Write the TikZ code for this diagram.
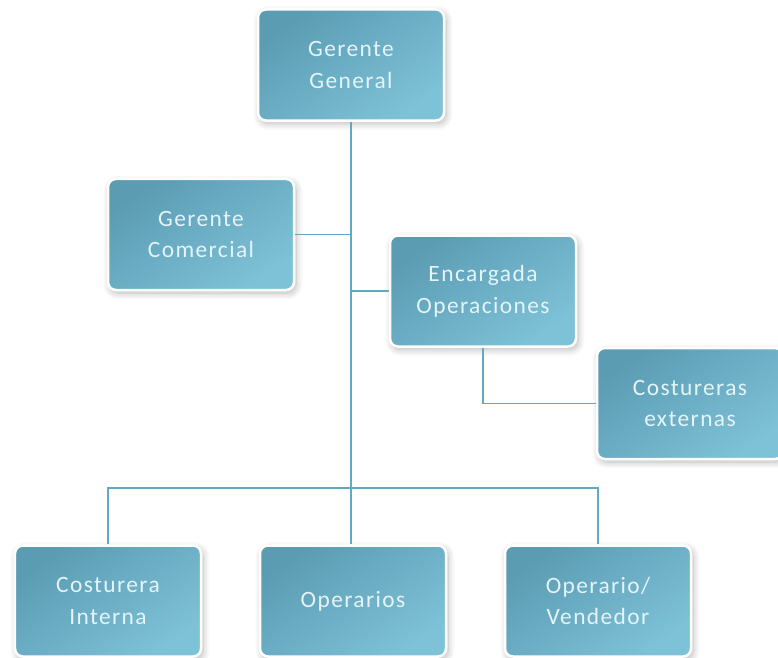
\documentclass[tikz,border=0pt]{standalone}
\usepackage{fontspec}
\setmainfont{Carlito}[LetterSpace=6]
\usetikzlibrary{shadows.blur}
\definecolor{boxtop}{HTML}{5B9CB3}
\definecolor{boxbot}{HTML}{7EC2D8}
\definecolor{boxtext}{HTML}{E4F4F8}
\definecolor{linkc}{HTML}{62A8C2}
\begin{document}
\begin{tikzpicture}[x=1bp,y=-1bp,
  orgbox/.style={draw=white, line width=2.5bp, rounded corners=8bp,
    minimum width=186bp, minimum height=111bp,
    top color=boxtop, bottom color=boxbot, middle color=boxtop!50!boxbot, shading angle=35,
    blur shadow={shadow xshift=2bp, shadow yshift=-3bp, shadow blur radius=7bp,
      shadow blur steps=12, shadow opacity=28},
    text=boxtext, align=center, font=\fontsize{23.5}{32}\selectfont},
  link/.style={draw=linkc, line width=1.6bp}]
\useasboundingbox (0,0) rectangle (778,658);
% boxes
\node[orgbox] (gg) at (351,65) {Gerente\\General};
\node[orgbox] (gc) at (201,234.5) {Gerente\\Comercial};
\node[orgbox] (eo) at (483,291) {Encargada\\Operaciones};
\node[orgbox] (ce) at (690,403.5) {Costureras\\externas};
\node[orgbox] (ci) at (108,601) {Costurera\\Interna};
\node[orgbox] (op) at (353,601) {Operarios};
\node[orgbox] (ov) at (598,601) {Operario/\\Vendedor};
% connectors
\coordinate (bus) at (351,488);
\draw[link] (gg.south) -- (gg.south |- op.north);
\draw[link] (gc.east) -- (gc.east -| gg.south);
\draw[link] (eo.west) -- (eo.west -| gg.south);
\draw[link] (eo.south) |- (ce.west);
\draw[link] (ci.north) |- (bus) -| (ov.north);
\end{tikzpicture}
\end{document}
